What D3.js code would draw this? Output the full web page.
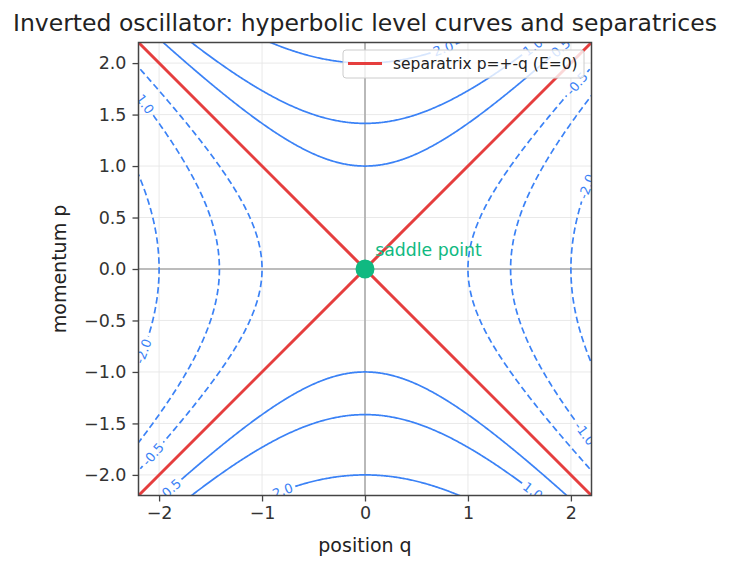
<!DOCTYPE html>
<meta charset="utf-8">
<style>
body { margin: 0; background: #fff; }
svg { font-family: "DejaVu Sans", sans-serif; }
.tick text { fill: #333; }
</style>
<svg width="729" height="569"></svg>
<script src="https://cdn.jsdelivr.net/npm/d3@7"></script>
<script>

// energy levels of H = (p^2 - q^2)/2 that are drawn
var levels = [-2, -1, -0.5, 0.5, 1, 2];
var separatrixSlopes = [1, -1];
var saddle = [0, 0];

// contour labels: level, branch (-1 / +1) and where on the branch
// (q for E>0 branches, p for E<0 branches)
var labelLevel  = [-1,   -2,   -0.5,  0.5,  2,    1,    -1,   -2,  -0.5, 0.5, 1,    2];
var labelBranch = [-1,   -1,   -1,    -1,   -1,   -1,    1,    1,   1,   1,   1,    1];
var labelAt     = [1.62, -0.8, -1.8,  -1.88, -0.8, 1.63, -1.6, 0.8, 1.8, 1.9, 1.63, 0.76];

var xTicks = [-2, -1, 0, 1, 2];
var yTicks = [-2, -1.5, -1, -0.5, 0, 0.5, 1, 1.5, 2];

var blue = "#3b82f6", red = "#e53e3e", green = "#10b981";

var svg = d3.select("svg");
var x = d3.scaleLinear().domain([-2.2, 2.2]).range([138.5, 591.5]);
var y = d3.scaleLinear().domain([-2.2, 2.2]).range([495.5, 42.5]);

var defs = svg.append("defs");
defs.append("clipPath").attr("id", "plot")
  .append("rect")
    .attr("x", x(-2.2)).attr("y", y(2.2))
    .attr("width", x(2.2) - x(-2.2)).attr("height", y(-2.2) - y(2.2));

// grid
svg.append("g").selectAll("line").data(xTicks).enter().append("line")
    .attr("x1", d => x(d)).attr("x2", d => x(d))
    .attr("y1", y(2.2)).attr("y2", y(-2.2))
    .attr("stroke", "#e6e6e6").attr("stroke-width", 0.9);
svg.append("g").selectAll("line").data(yTicks).enter().append("line")
    .attr("y1", d => y(d)).attr("y2", d => y(d))
    .attr("x1", x(-2.2)).attr("x2", x(2.2))
    .attr("stroke", "#e6e6e6").attr("stroke-width", 0.9);

// zero lines
svg.append("line").attr("x1", x(0)).attr("x2", x(0)).attr("y1", y(2.2)).attr("y2", y(-2.2))
  .attr("stroke", "#aaa").attr("stroke-width", 1.6);
svg.append("line").attr("y1", y(0)).attr("y2", y(0)).attr("x1", x(-2.2)).attr("x2", x(2.2))
  .attr("stroke", "#aaa").attr("stroke-width", 1.6);

// branch point for a level, branch sign and parameter
function branchPoint(E, s, t) {
  if (E > 0) return [t, s * Math.sqrt(2 * E + t * t)];
  return [s * Math.sqrt(t * t - 2 * E), t];
}
function tangentAngle(E, s, t) {
  var pt = branchPoint(E, s, t), dq, dp;
  if (E > 0) { dq = 1; dp = pt[0] / pt[1]; }
  else { dq = pt[1] / pt[0]; dp = 1; }
  var a = Math.atan2(-dp, dq) * 180 / Math.PI;
  if (a > 90) a -= 180;
  if (a < -90) a += 180;
  return a;
}

// contour labels (measured first so the lines can be cut under them)
var labels = labelLevel.map((E, i) => {
  var pt = branchPoint(E, labelBranch[i], labelAt[i]);
  return {E: E, px: x(pt[0]), py: y(pt[1]), ang: tangentAngle(E, labelBranch[i], labelAt[i])};
});

var labelG = svg.append("g").attr("clip-path", "url(#plot)");
labelG.selectAll("text").data(labels).enter().append("text")
    .attr("transform", d => "translate(" + d.px + "," + d.py + ") rotate(" + d.ang + ")")
    .attr("text-anchor", "middle").attr("dy", "0.35em")
    .attr("font-size", 13).attr("fill", blue)
    .text(d => d3.format(".1f")(d.E).replace("−", "-"))
    .each(function(d) { d.w = this.getComputedTextLength(); });

var mask = defs.append("mask").attr("id", "gaps").attr("maskUnits", "userSpaceOnUse")
    .attr("x", 0).attr("y", 0).attr("width", 729).attr("height", 569);
mask.append("rect").attr("width", 729).attr("height", 569).attr("fill", "#fff");
mask.selectAll("rect.cut").data(labels).enter().append("rect")
    .attr("class", "cut")
    .attr("x", d => -d.w / 2 - 3).attr("y", -7.5).attr("width", d => d.w + 6).attr("height", 15)
    .attr("transform", d => "translate(" + d.px + "," + d.py + ") rotate(" + d.ang + ")")
    .attr("fill", "#000");

// level curves
var line = d3.line().x(d => x(d[0])).y(d => y(d[1]));
var params = d3.range(-2.3, 2.3001, 0.01);
var curves = [];
levels.forEach(E => {
  [-1, 1].forEach(s => {
    curves.push({E: E, pts: params.map(t => branchPoint(E, s, t))});
  });
});
svg.append("g").attr("clip-path", "url(#plot)")
  .append("g").attr("mask", "url(#gaps)")
  .selectAll("path").data(curves).enter().append("path")
    .attr("d", d => line(d.pts))
    .attr("fill", "none").attr("stroke", blue).attr("stroke-width", 1.7)
    .attr("stroke-dasharray", d => d.E < 0 ? "6.5,3.5" : null);

// separatrices
svg.append("g").attr("clip-path", "url(#plot)")
  .selectAll("path").data(separatrixSlopes).enter().append("path")
    .attr("d", k => line([[-2.2, -2.2 * k], [2.2, 2.2 * k]]))
    .attr("stroke", red).attr("stroke-width", 3).attr("fill", "none");

// saddle point
svg.append("circle").attr("cx", x(saddle[0])).attr("cy", y(saddle[1])).attr("r", 9.5).attr("fill", green);
svg.append("text").attr("x", x(0.1)).attr("y", y(0.125))
  .attr("font-size", 17.3).attr("fill", green).text("saddle point");

// spines
svg.append("rect")
    .attr("x", x(-2.2)).attr("y", y(2.2))
    .attr("width", x(2.2) - x(-2.2)).attr("height", y(-2.2) - y(2.2))
    .attr("fill", "none").attr("stroke", "#444").attr("stroke-width", 1.5);

// axes
var xAxis = svg.append("g").attr("transform", "translate(0," + y(-2.2) + ")")
  .call(d3.axisBottom(x).tickValues(xTicks).tickSize(6).tickPadding(5).tickFormat(d3.format("d")));
var yAxis = svg.append("g").attr("transform", "translate(" + x(-2.2) + ",0)")
  .call(d3.axisLeft(y).tickValues(yTicks).tickSize(6).tickPadding(6).tickFormat(d3.format(".1f")));
[xAxis, yAxis].forEach(a => {
  a.select(".domain").remove();
  a.selectAll(".tick line").attr("stroke", "#444").attr("stroke-width", 1.3);
  a.selectAll(".tick text").attr("font-size", 17.5).attr("font-family", "DejaVu Sans").attr("fill", "#333");
});

// titles
svg.append("text").attr("x", x(0)).attr("y", 31).attr("text-anchor", "middle")
  .attr("font-size", 23.5).attr("fill", "#222")
  .text("Inverted oscillator: hyperbolic level curves and separatrices");
svg.append("text").attr("x", x(0)).attr("y", 552).attr("text-anchor", "middle")
  .attr("font-size", 19).attr("fill", "#222").text("position q");
svg.append("text").attr("transform", "translate(66," + y(0) + ") rotate(-90)")
  .attr("text-anchor", "middle")
  .attr("font-size", 19).attr("fill", "#222").text("momentum p");

// legend
var lg = svg.append("g").attr("transform", "translate(343,50)");
lg.append("rect").attr("width", 241).attr("height", 28).attr("rx", 3)
  .attr("fill", "#fff").attr("fill-opacity", 0.8).attr("stroke", "#ccc").attr("stroke-width", 1);
lg.append("line").attr("x1", 5).attr("x2", 39).attr("y1", 13.5).attr("y2", 13.5)
  .attr("stroke", red).attr("stroke-width", 3);
lg.append("text").attr("x", 50).attr("y", 19).attr("font-size", 15.5).attr("fill", "#222")
  .text("separatrix p=+-q (E=0)");

</script>
